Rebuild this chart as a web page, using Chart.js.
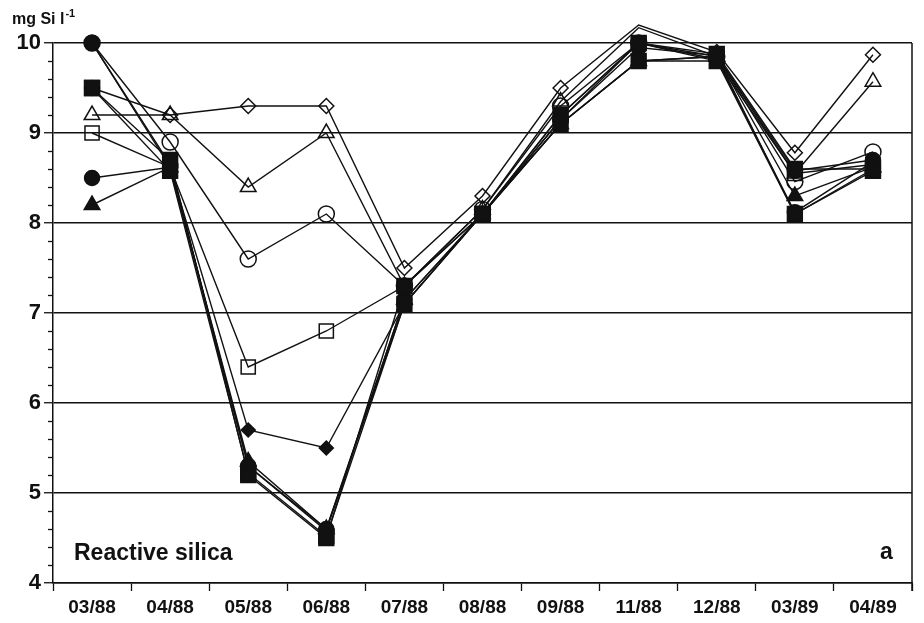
<!DOCTYPE html>
<html>
<head>
<meta charset="utf-8">
<script src="https://cdn.jsdelivr.net/npm/chart.js@4.4.1/dist/chart.umd.min.js"></script>
<style>
  html, body { margin: 0; padding: 0; background: #ffffff; }
  #wrap { width: 924px; height: 623px; }
</style>
</head>
<body>
<div id="wrap"><canvas id="chart" width="924" height="623"></canvas></div>
<script>
// Sampling dates
const months = ['03/88', '04/88', '05/88', '06/88', '07/88', '08/88', '09/88', '11/88', '12/88', '03/89', '04/89'];

// Reactive silica (mg Si l-1), one array per sampling series
const openDiamond    = [9.5, 9.2, 9.3, 9.3, 7.5, 8.3, 9.5, 10.2, 9.9, 8.78, 9.87];
const openTriangle   = [9.2, 9.2, 8.4, 9.0, 7.3, 8.15, 9.35, 10.17, 9.85, 8.55, 9.57];
const openCircle     = [10.0, 8.9, 7.6, 8.1, 7.3, 8.15, 9.3, 10.0, 9.85, 8.46, 8.79];
const openSquare     = [9.0, 8.62, 6.4, 6.8, 7.3, 8.1, 9.2, 10.0, 9.8, 8.55, 8.65];
const filledDiamond  = [10.0, 8.62, 5.7, 5.5, 7.1, 8.1, 9.1, 9.8, 9.85, 8.1, 8.6];
const filledTriangle = [8.2, 8.62, 5.35, 4.6, 7.15, 8.1, 9.1, 9.8, 9.85, 8.3, 8.62];
const filledCircleA  = [10.0, 8.65, 5.3, 4.6, 7.1, 8.1, 9.15, 9.95, 9.86, 8.58, 8.7];
const filledCircleB  = [8.5, 8.62, 5.3, 4.58, 7.15, 8.1, 9.15, 10.0, 9.82, 8.12, 8.68];
const filledSquareA  = [9.5, 8.7, 5.2, 4.5, 7.3, 8.1, 9.2, 10.0, 9.88, 8.6, 8.6];
const filledSquareB  = [9.5, 8.58, 5.22, 4.52, 7.1, 8.1, 9.1, 9.8, 9.8, 8.1, 8.58];

// Axis range and labelled ticks
const yMin = 4;
const yMax = 10;
const yTicks = [4, 5, 6, 7, 8, 9, 10];

const INK = '#111111';
const FONT = '"Liberation Sans", Arial, sans-serif';

function series(label, data, style, radius, filled) {
  return {
    label: label,
    data: data,
    borderColor: INK,
    borderWidth: 1.4,
    pointStyle: style,
    pointRadius: radius,
    pointHoverRadius: radius,
    pointBorderColor: INK,
    pointBorderWidth: 1.5,
    pointBackgroundColor: filled ? INK : 'rgba(0,0,0,0)',
    tension: 0,
    fill: false,
    clip: false
  };
}

// Text labels, minor ticks and the right frame line
const decorations = {
  id: 'decorations',
  afterDraw(chart) {
    const ctx = chart.ctx;
    const area = chart.chartArea;
    const y = chart.scales.y;
    ctx.save();
    ctx.strokeStyle = INK;
    ctx.lineWidth = 1.3;
    // minor ticks every 0.2
    for (let k = yMin * 5; k <= yMax * 5; k++) {
      if (k % 5 === 0) continue;
      const py = Math.round(y.getPixelForValue(k / 5)) + 0.5;
      ctx.beginPath();
      ctx.moveTo(area.left - 5, py);
      ctx.lineTo(area.left, py);
      ctx.stroke();
    }
    // right frame
    ctx.lineWidth = 1.5;
    ctx.beginPath();
    ctx.moveTo(area.right, y.getPixelForValue(yMax));
    ctx.lineTo(area.right, area.bottom + 8);
    ctx.stroke();

    ctx.fillStyle = INK;
    ctx.textBaseline = 'alphabetic';
    ctx.textAlign = 'left';
    // unit label
    ctx.font = 'bold 16px ' + FONT;
    const unit = 'mg Si l';
    ctx.fillText(unit, 12, 24);
    const w = ctx.measureText(unit).width;
    ctx.font = 'bold 11px ' + FONT;
    ctx.fillText('-1', 12 + w + 1, 17);
    // panel caption and letter
    ctx.font = 'bold 23px ' + FONT;
    ctx.fillText('Reactive silica', 74, 560);
    ctx.fillText('a', 880, 559);
    ctx.restore();
  }
};

new Chart(document.getElementById('chart'), {
  type: 'line',
  data: {
    labels: months,
    datasets: [
      series('■ a', filledSquareA, 'rect', 10.5, true),
      series('■ b', filledSquareB, 'rect', 10.5, true),
      series('● a', filledCircleA, 'circle', 7.5, true),
      series('● b', filledCircleB, 'circle', 7.5, true),
      series('▲', filledTriangle, 'triangle', 9, true),
      series('◆', filledDiamond, 'rectRot', 7, true),
      series('□', openSquare, 'rect', 10, false),
      series('○', openCircle, 'circle', 8, false),
      series('△', openTriangle, 'triangle', 9, false),
      series('◇', openDiamond, 'rectRot', 7.5, false)
    ]
  },
  options: {
    responsive: false,
    animation: false,
    devicePixelRatio: 1,
    layout: { padding: { left: 0, top: 43, right: 5, bottom: 0 } },
    plugins: {
      legend: { display: false },
      tooltip: { enabled: false },
      title: { display: false }
    },
    scales: {
      x: {
        type: 'category',
        offset: true,
        afterFit(scale) { scale.height = 40; },
        grid: {
          offset: true,
          drawOnChartArea: false,
          drawTicks: true,
          tickLength: 8,
          tickColor: INK,
          tickWidth: 1.3,
          color: INK
        },
        border: { display: true, color: INK, width: 1.5 },
        ticks: {
          color: INK,
          padding: 5,
          maxRotation: 0,
          autoSkip: false,
          font: { family: FONT, size: 19, weight: 'bold' }
        }
      },
      y: {
        min: yMin,
        max: yMax,
        afterFit(scale) { scale.width = 53; },
        afterBuildTicks(scale) { scale.ticks = yTicks.map(v => ({ value: v })); },
        grid: {
          color: INK,
          lineWidth: 1.5,
          drawTicks: true,
          tickLength: 9,
          tickColor: INK,
          tickWidth: 1.3
        },
        border: { display: true, color: INK, width: 1.5 },
        ticks: {
          color: INK,
          padding: 3,
          font: { family: FONT, size: 22, weight: 'bold' }
        }
      }
    }
  },
  plugins: [decorations]
});
</script>
</body>
</html>
